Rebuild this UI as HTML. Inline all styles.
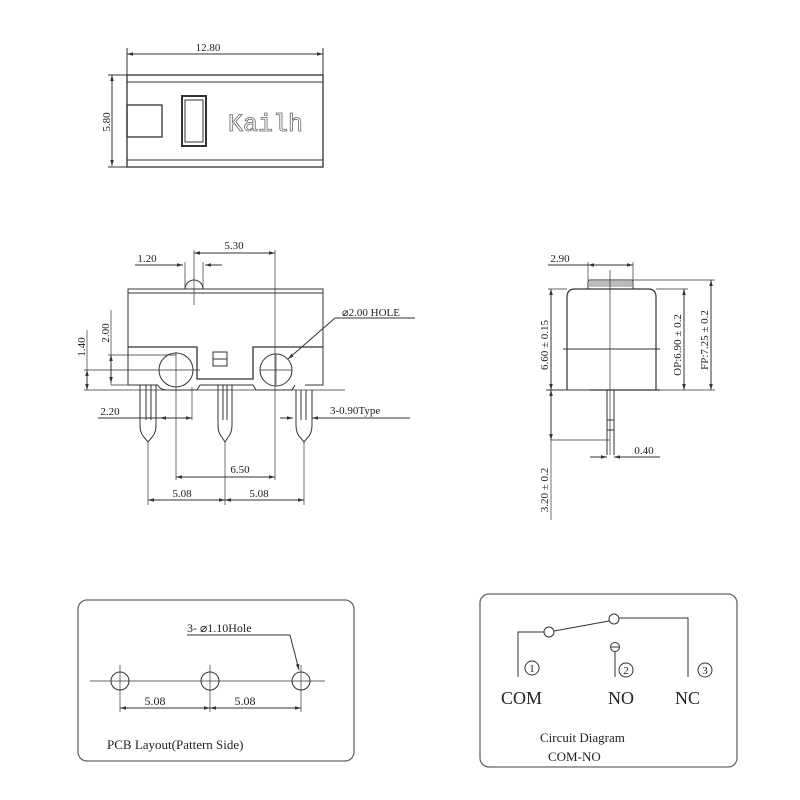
<!DOCTYPE html>
<html><head><style>html,body{margin:0;padding:0;background:#fff}svg{display:block}</style></head>
<body>
<svg width="800" height="800" viewBox="0 0 800 800" xmlns="http://www.w3.org/2000/svg" font-family="Liberation Serif, serif" fill="none" stroke="#333" stroke-width="1">
<defs>
<marker id="a" viewBox="0 0 10 10" refX="10" refY="5" markerWidth="6" markerHeight="6" orient="auto-start-reverse"><path d="M0,2L10,5L0,8z" fill="#333" stroke="none"/></marker>
</defs>
<!-- TOP VIEW -->
<rect x="127" y="75" width="196" height="92" stroke-width="1.3"/>
<line x1="127" y1="82" x2="323" y2="82"/>
<line x1="127" y1="160" x2="323" y2="160"/>
<rect x="127" y="105" width="35" height="32" stroke-width="1.3"/>
<rect x="182" y="96" width="24" height="50" stroke-width="2"/>
<rect x="185" y="100" width="18" height="42"/>
<line x1="127" y1="54" x2="323" y2="54" marker-start="url(#a)" marker-end="url(#a)"/>
<line x1="127" y1="48" x2="127" y2="75"/><line x1="323" y1="48" x2="323" y2="75"/>
<line x1="112" y1="75" x2="112" y2="166" marker-start="url(#a)" marker-end="url(#a)"/>
<line x1="108" y1="75" x2="127" y2="75"/><line x1="108" y1="167" x2="127" y2="167"/>
<g fill="#222" stroke="none" font-size="11">
<text x="208" y="51" text-anchor="middle">12.80</text>
<text transform="translate(110,122) rotate(-90)" text-anchor="middle">5.80</text>
</g>
<text x="228" y="131" font-family="Liberation Mono, monospace" font-size="25" fill="#fff" stroke="#666" stroke-width="0.8">Kailh</text>

<!-- FRONT VIEW -->
<rect x="128" y="289" width="195" height="4"/>
<path d="M128,293 V385 H158 M323,293 V385 H305"/>
<path d="M185,289 A9,9 0 0 1 203,289"/>
<path d="M128,347 H197 V379 H253 V347 H323" stroke-width="1.3"/>
<path d="M158,385 Q160,390 168,390 H197 L200,385 H253 L256,390 H292 L295,385" />
<circle cx="176" cy="370" r="17"/>
<circle cx="276" cy="370" r="16"/>
<rect x="213" y="352" width="14" height="14"/><line x1="213" y1="359" x2="227" y2="359"/>
<!-- pins -->
<g>
<path d="M140,385 V425 Q140,432 143,436 L148,442 L153,436 Q156,432 156,425 V385"/>
<path d="M218,385 V425 Q218,432 221,436 L225,442 L229,436 Q232,432 232,425 V385"/>
<path d="M296,390 V425 Q296,432 299,436 L304,442 L309,436 Q312,432 312,425 V390"/>
<line x1="146" y1="385" x2="146" y2="420"/><line x1="151" y1="385" x2="151" y2="420"/>
<line x1="223" y1="385" x2="223" y2="420"/><line x1="227" y1="385" x2="227" y2="420"/>
<line x1="301" y1="390" x2="301" y2="420"/><line x1="306" y1="390" x2="306" y2="420"/>
</g>
<!-- dims front -->
<line x1="194" y1="253" x2="275" y2="253" marker-start="url(#a)" marker-end="url(#a)"/>
<line x1="194" y1="250" x2="194" y2="305" stroke-width="0.7"/>
<line x1="275" y1="250" x2="275" y2="480" stroke-width="0.7"/>
<line x1="135" y1="265" x2="183" y2="265"/><line x1="170" y1="265" x2="183" y2="265" marker-end="url(#a)"/>
<line x1="217" y1="265" x2="205" y2="265" marker-end="url(#a)"/><line x1="205" y1="265" x2="222" y2="265"/>
<line x1="185" y1="262" x2="185" y2="289" stroke-width="0.7"/><line x1="203" y1="262" x2="203" y2="289" stroke-width="0.7"/>
<line x1="176" y1="352" x2="176" y2="480" stroke-width="0.7"/>
<line x1="176" y1="477" x2="275" y2="477" marker-start="url(#a)" marker-end="url(#a)"/>
<line x1="148" y1="442" x2="148" y2="505" stroke-width="0.7"/>
<line x1="225" y1="442" x2="225" y2="505" stroke-width="0.7"/>
<line x1="304" y1="442" x2="304" y2="505" stroke-width="0.7"/>
<line x1="148" y1="500" x2="225" y2="500" marker-start="url(#a)" marker-end="url(#a)"/>
<line x1="225" y1="500" x2="304" y2="500" marker-start="url(#a)" marker-end="url(#a)"/>
<line x1="98" y1="418" x2="160" y2="418"/>
<line x1="160" y1="418" x2="192" y2="418" marker-start="url(#a)" marker-end="url(#a)"/>
<line x1="192" y1="387" x2="192" y2="420" stroke-width="0.7"/>
<line x1="280" y1="418" x2="293" y2="418" marker-end="url(#a)"/>
<line x1="325" y1="418" x2="312" y2="418" marker-end="url(#a)"/>
<line x1="325" y1="418" x2="410" y2="418"/>
<line x1="111" y1="310" x2="111" y2="385" stroke-width="0.7"/>
<line x1="111" y1="355" x2="111" y2="383" marker-start="url(#a)" marker-end="url(#a)"/>
<line x1="87" y1="330" x2="87" y2="390" stroke-width="0.7"/>
<line x1="87" y1="370" x2="87" y2="390" marker-start="url(#a)" marker-end="url(#a)"/>
<line x1="108" y1="355" x2="176" y2="355" stroke-width="0.7"/>
<line x1="84" y1="370" x2="200" y2="370" stroke-width="0.7"/>
<line x1="84" y1="390" x2="345" y2="390" stroke-width="0.7"/>
<line x1="111" y1="385" x2="128" y2="385" stroke-width="0.7"/>
<line x1="276" y1="355" x2="276" y2="385" stroke-width="0.7"/><line x1="260" y1="370" x2="292" y2="370" stroke-width="0.7"/>
<line x1="415" y1="318" x2="335" y2="318"/>
<line x1="335" y1="318" x2="288" y2="359" marker-end="url(#a)"/>
<g fill="#222" stroke="none" font-size="11">
<text x="234" y="249" text-anchor="middle">5.30</text>
<text x="147" y="262" text-anchor="middle">1.20</text>
<text x="342" y="316">⌀2.00 HOLE</text>
<text transform="translate(109,333) rotate(-90)" text-anchor="middle">2.00</text>
<text transform="translate(85,347) rotate(-90)" text-anchor="middle">1.40</text>
<text x="110" y="415" text-anchor="middle">2.20</text>
<text x="330" y="414">3-0.90Type</text>
<text x="240" y="473" text-anchor="middle">6.50</text>
<text x="182" y="497" text-anchor="middle">5.08</text>
<text x="259" y="497" text-anchor="middle">5.08</text>
</g>

<!-- SIDE VIEW -->
<path d="M588,289 V282 Q588,280 590,280 H631 Q633,280 633,282 V289"/>
<rect x="589" y="281" width="43" height="6" fill="#bbb" stroke="none"/>
<path d="M567,390 V297 Q567,289 575,289 H648 Q656,289 656,297 V390" stroke-width="1.2"/>
<line x1="563" y1="349" x2="660" y2="349"/>
<line x1="546" y1="390" x2="590" y2="390"/><line x1="590" y1="390" x2="660" y2="390" stroke-width="1.3"/>
<line x1="610" y1="270" x2="610" y2="455" stroke-width="0.7"/>
<path d="M607,390 V455 M614,390 V455"/>
<line x1="607" y1="420" x2="614" y2="420"/><line x1="607" y1="430" x2="614" y2="430"/>
<line x1="548" y1="265" x2="588" y2="265"/>
<line x1="588" y1="265" x2="633" y2="265" marker-start="url(#a)" marker-end="url(#a)"/>
<line x1="588" y1="262" x2="588" y2="280" stroke-width="0.7"/><line x1="633" y1="262" x2="633" y2="280" stroke-width="0.7"/>
<line x1="551" y1="289" x2="551" y2="390" marker-start="url(#a)" marker-end="url(#a)"/>
<line x1="548" y1="289" x2="567" y2="289" stroke-width="0.7"/>
<line x1="551" y1="390" x2="551" y2="440" marker-start="url(#a)" marker-end="url(#a)"/>
<line x1="551" y1="440" x2="551" y2="520" stroke-width="0.7"/>
<line x1="551" y1="440" x2="610" y2="440" stroke-width="0.7"/>
<line x1="684" y1="289" x2="684" y2="390" marker-start="url(#a)" marker-end="url(#a)"/>
<line x1="656" y1="289" x2="688" y2="289" stroke-width="0.7"/>
<line x1="711" y1="280" x2="711" y2="390" marker-start="url(#a)" marker-end="url(#a)"/>
<line x1="633" y1="280" x2="715" y2="280" stroke-width="0.7"/>
<line x1="660" y1="390" x2="715" y2="390" stroke-width="0.7"/>
<line x1="590" y1="457" x2="607" y2="457" marker-end="url(#a)"/>
<line x1="660" y1="457" x2="614" y2="457" marker-end="url(#a)"/>
<g fill="#222" stroke="none" font-size="11">
<text x="560" y="262" text-anchor="middle">2.90</text>
<text x="644" y="454" text-anchor="middle">0.40</text>
<text transform="translate(548,345) rotate(-90)" text-anchor="middle">6.60 ± 0.15</text>
<text transform="translate(548,490) rotate(-90)" text-anchor="middle">3.20 ± 0.2</text>
<text transform="translate(681,345) rotate(-90)" text-anchor="middle">OP:6.90 ± 0.2</text>
<text transform="translate(708,340) rotate(-90)" text-anchor="middle">FP:7.25 ± 0.2</text>
</g>

<!-- PCB LAYOUT -->
<rect x="78" y="600" width="276" height="161" rx="9" stroke="#666" stroke-width="1.3"/>
<line x1="90" y1="681" x2="325" y2="681" stroke-width="0.8"/>
<circle cx="120" cy="681" r="9"/><circle cx="210" cy="681" r="9"/><circle cx="301" cy="681" r="9"/>
<line x1="120" y1="665" x2="120" y2="712" stroke-width="0.7"/>
<line x1="210" y1="665" x2="210" y2="712" stroke-width="0.7"/>
<line x1="301" y1="665" x2="301" y2="712" stroke-width="0.7"/>
<line x1="120" y1="708" x2="210" y2="708" marker-start="url(#a)" marker-end="url(#a)"/>
<line x1="210" y1="708" x2="301" y2="708" marker-start="url(#a)" marker-end="url(#a)"/>
<line x1="187" y1="635" x2="290" y2="635"/>
<line x1="290" y1="635" x2="299" y2="670" marker-end="url(#a)"/>
<g fill="#222" stroke="none">
<text x="187" y="632" font-size="12">3- ⌀1.10Hole</text>
<text x="155" y="705" font-size="12" text-anchor="middle">5.08</text>
<text x="245" y="705" font-size="12" text-anchor="middle">5.08</text>
<text x="107" y="749" font-size="13">PCB Layout(Pattern Side)</text>
</g>

<!-- CIRCUIT -->
<rect x="480" y="594" width="257" height="173" rx="9" stroke="#666" stroke-width="1.3"/>
<path d="M518,677 V632 H544"/>
<circle cx="549" cy="632" r="5"/>
<line x1="554" y1="631" x2="609" y2="621"/>
<circle cx="614" cy="619" r="5"/>
<path d="M619,618 H688 V677"/>
<circle cx="615" cy="647" r="4.5"/><line x1="610.5" y1="647" x2="619.5" y2="647"/>
<line x1="615" y1="652" x2="615" y2="677"/>
<circle cx="532" cy="668" r="7"/><circle cx="626" cy="670" r="7"/><circle cx="705" cy="670" r="7"/>
<g fill="#222" stroke="none">
<text x="532" y="672" font-size="11" text-anchor="middle">1</text>
<text x="626" y="674" font-size="11" text-anchor="middle">2</text>
<text x="705" y="674" font-size="11" text-anchor="middle">3</text>
<text x="501" y="704" font-size="18">COM</text>
<text x="608" y="704" font-size="18">NO</text>
<text x="675" y="704" font-size="18">NC</text>
<text x="540" y="742" font-size="13">Circuit Diagram</text>
<text x="548" y="761" font-size="13">COM-NO</text>
</g>
</svg>
</body></html>
